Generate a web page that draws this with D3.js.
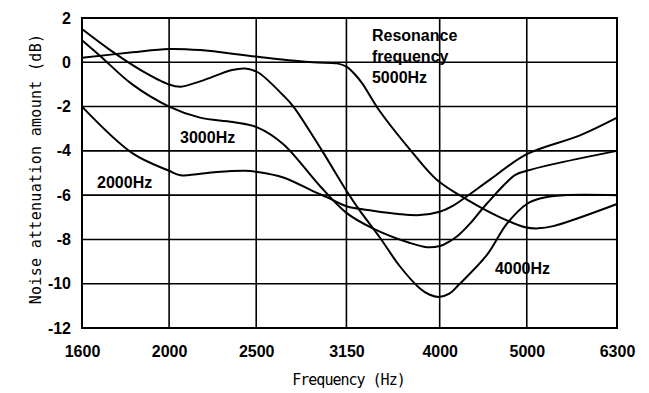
<!DOCTYPE html>
<html>
<head>
<meta charset="utf-8">
<script src="https://cdn.jsdelivr.net/npm/d3@7"></script>
<style>
  body { margin: 0; background: #fff; }
  .canvas { width: 649px; height: 393px; }
</style>
</head>
<body>
<div class="canvas"></div>
<script>
// tick values
const freqTicks = [1600, 2000, 2500, 3150, 4000, 5000, 6300];
const dbTicks = [2, 0, -2, -4, -6, -8, -10, -12];

// curves: [frequency Hz, attenuation dB]
const res2000 = [[1600,-2.0],[1820,-4.1],[2000,-4.9],[2060,-5.1],[2260,-4.95],[2430,-4.9],[2510,-4.95],
  [2680,-5.2],[2920,-5.9],[3000,-6.1],[3150,-6.5],[3370,-6.7],[3600,-6.85],[3800,-6.9],[4000,-6.75],
  [4150,-6.45],[4290,-6.05],[4550,-5.3],[5000,-4.15],[5730,-3.3],[6300,-2.5]];
const res3000 = [[1600,1.0],[1675,0.3],[1820,-1.0],[2000,-2.0],[2165,-2.5],[2355,-2.7],[2510,-2.95],
  [2680,-3.7],[2945,-5.6],[3150,-6.8],[3370,-7.5],[3700,-8.15],[3870,-8.35],[4000,-8.3],[4100,-8.1],
  [4200,-7.8],[4320,-7.3],[4510,-6.4],[4850,-5.1],[5000,-4.9],[5350,-4.6],[6300,-4.0]];
const res4000 = [[1600,1.5],[1720,0.55],[1860,-0.35],[2000,-1.0],[2060,-1.1],[2170,-0.85],[2350,-0.35],
  [2430,-0.28],[2510,-0.45],[2680,-1.5],[2750,-2.0],[2960,-4.0],[3150,-5.8],[3260,-6.7],[3430,-7.9],
  [3610,-9.2],[3800,-10.2],[3900,-10.5],[3990,-10.6],[4100,-10.45],[4200,-10.05],[4515,-8.7],
  [4750,-7.3],[5000,-6.4],[5170,-6.15],[5500,-6.0],[6300,-6.0]];
const res5000 = [[1600,0.2],[1820,0.45],[2000,0.6],[2165,0.55],[2510,0.25],[2890,0.0],[3075,-0.05],
  [3150,-0.2],[3220,-0.55],[3280,-0.95],[3430,-2.2],[3735,-4.1],[3970,-5.3],[4290,-6.2],[4670,-7.0],
  [4980,-7.45],[5150,-7.5],[5350,-7.4],[6300,-6.4]];

const curves = [res2000, res3000, res4000, res5000];

// append svg container
const svg = d3.select(".canvas")
              .append('svg')
              .attr('width', 649)
              .attr('height', 393);

const margins = {'top': 18, 'left': 82, 'bottom': 65, 'right': 32};
const graphWidth = 649 - margins.left - margins.right;
const graphHeight = 393 - margins.top - margins.bottom;

const graph = svg.append('g')
                 .attr('transform', 'translate(' + margins.left + ',' + margins.top + ')');

const x = d3.scaleLog()
            .domain([1600, 6300])
            .range([0, graphWidth]);

const y = d3.scaleLinear()
            .domain([-12, 2])
            .range([graphHeight, 0]);

// grid
graph.append('g')
     .selectAll('line')
     .data(dbTicks)
     .enter().append('line')
     .attr('x1', 0).attr('x2', graphWidth)
     .attr('y1', d => y(d)).attr('y2', d => y(d))
     .attr('stroke', '#000').attr('stroke-width', 1.6);

graph.append('g')
     .selectAll('line')
     .data(freqTicks)
     .enter().append('line')
     .attr('x1', d => x(d)).attr('x2', d => x(d))
     .attr('y1', 0).attr('y2', graphHeight)
     .attr('stroke', '#000').attr('stroke-width', 1.6);

graph.append('rect')
     .attr('width', graphWidth).attr('height', graphHeight)
     .attr('fill', 'none').attr('stroke', '#000').attr('stroke-width', 2);

// axes (labels only, the grid draws the lines)
const xAxis = d3.axisBottom(x)
                .tickValues(freqTicks)
                .tickFormat(d3.format('d'))
                .tickSize(0)
                .tickPadding(18);
const yAxis = d3.axisLeft(y)
                .tickValues(dbTicks)
                .tickFormat(d => d)
                .tickSize(0)
                .tickPadding(11);

const xAxisGroup = graph.append('g')
                        .attr('transform', 'translate(0,' + graphHeight + ')')
                        .call(xAxis);
const yAxisGroup = graph.append('g').call(yAxis);

[xAxisGroup, yAxisGroup].forEach(g => {
  g.select('.domain').remove();
  g.selectAll('text')
   .attr('fill', '#000')
   .style('font-family', '"Liberation Sans", Arial, sans-serif')
   .style('font-size', '16px')
   .style('font-weight', 'bold');
});

// curves
const line = d3.line()
               .x(d => x(d[0]))
               .y(d => y(d[1]))
               .curve(d3.curveCatmullRom.alpha(0.5));

graph.append('g')
     .selectAll('path')
     .data(curves)
     .enter().append('path')
     .attr('d', line)
     .attr('fill', 'none')
     .attr('stroke', '#000')
     .attr('stroke-width', 2);

// curve labels
const labelFont = '"Liberation Sans", Arial, sans-serif';
const notes = [
  {f: 1663, db: -5.68, lines: ['2000Hz']},
  {f: 2057, db: -3.65, lines: ['3000Hz']},
  {f: 4608, db: -9.56, lines: ['4000Hz']},
  {f: 3363, db: 0.96, lines: ['Resonance', 'frequency', '5000Hz']}
];

notes.forEach(n => {
  const t = graph.append('text')
                 .attr('x', x(n.f))
                 .attr('y', y(n.db))
                 .style('font-family', labelFont)
                 .style('font-size', '16px')
                 .style('font-weight', 'bold');
  n.lines.forEach((s, i) => {
    t.append('tspan')
     .attr('x', x(n.f))
     .attr('dy', i === 0 ? 0 : 21)
     .text(s);
  });
});

// axis titles
svg.append('text')
   .attr('x', margins.left + graphWidth / 2 - 1)
   .attr('y', 385)
   .attr('text-anchor', 'middle')
   .style('font-family', '"DejaVu Sans Mono", monospace')
   .style('font-size', '15px')
   .style('letter-spacing', '-1px')
   .text('Frequency  (Hz)');

svg.append('text')
   .attr('transform', 'translate(41,169) rotate(-90)')
   .attr('text-anchor', 'middle')
   .style('font-family', '"DejaVu Sans Mono", monospace')
   .style('font-size', '15px')
   .style('letter-spacing', '0.3px')
   .text('Noise attenuation amount (dB)');
</script>
</body>
</html>
